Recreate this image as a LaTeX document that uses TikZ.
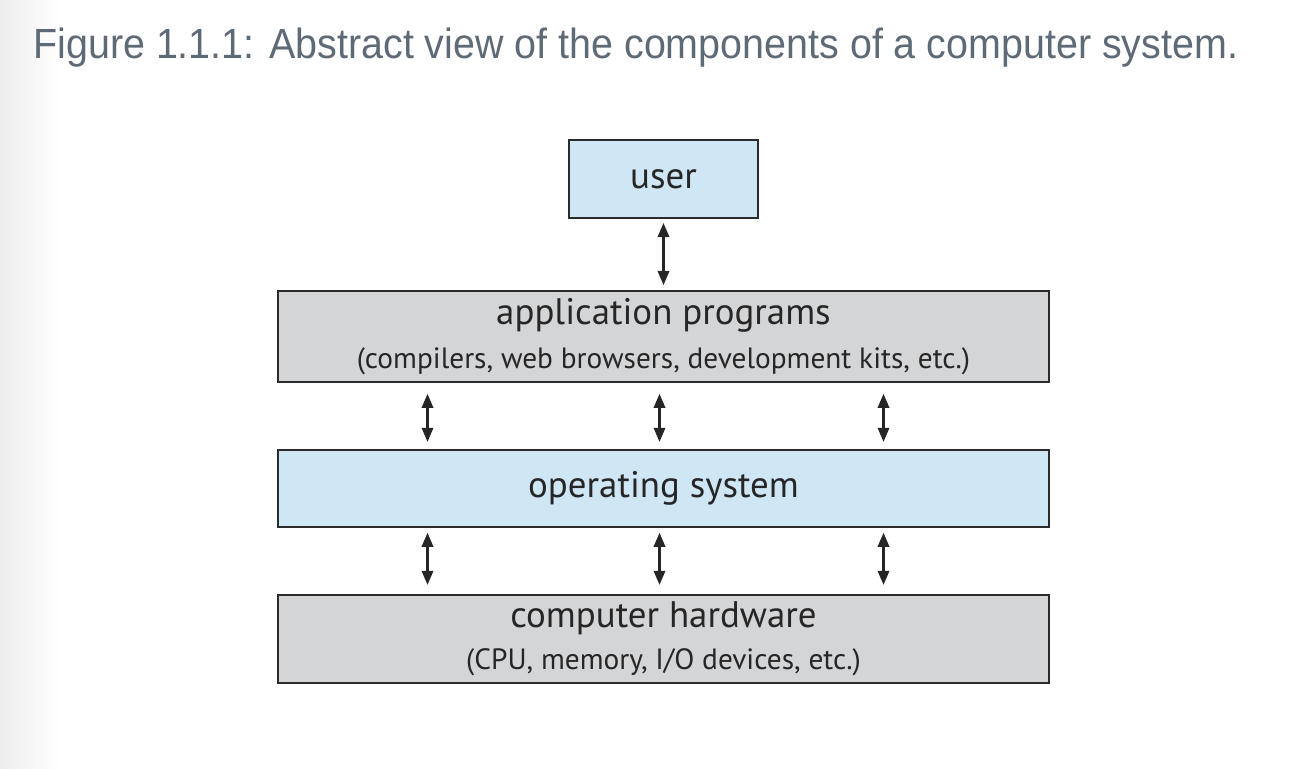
\documentclass[tikz,border=0pt]{standalone}
\usepackage{fontspec}
\setmainfont{PT Sans}
\newfontfamily\capfont[FakeStretch=0.935]{Liberation Sans}
\usetikzlibrary{arrows.meta, positioning}
\definecolor{osblue}{HTML}{CFE6F5}
\definecolor{hwgray}{HTML}{D4D5D7}
\definecolor{capgray}{HTML}{5E6B77}
\definecolor{edge}{HTML}{2B2B2B}

\begin{document}
\begin{tikzpicture}[
    layer/.style={draw=edge, line width=1.1pt, minimum width=15.42cm, align=center,
      inner sep=0pt, text=black!85, font=\fontsize{21}{24}\selectfont},
    link/.style={{Triangle[length=8pt,width=6.5pt]}-{Triangle[length=8pt,width=6.5pt]},
      line width=1.2pt, black!85}]
  \useasboundingbox (0,0) rectangle (25.96,-15.36);
  \shade[left color=black!7, right color=white] (0,0) rectangle (1.2,-15.36);

  \node[anchor=base west, inner sep=0pt, text=capgray,
    font=\capfont\fontsize{24}{28}\selectfont] (caption) at (0.66,-1.18)
    {Figure 1.1.1: Abstract view of the components of a computer system.};

  % the four layers
  \node[layer, fill=osblue, minimum width=3.78cm, minimum height=1.56cm] (user) at (13.27,-3.58) {user};
  \node[layer, fill=hwgray, minimum height=1.82cm, below=1.42cm of user] (apps)
    {application programs\\[1pt]{\fontsize{16.7}{19}\selectfont (compilers, web browsers, development kits, etc.)}};
  \node[layer, fill=osblue, minimum height=1.54cm, below=1.32cm of apps] (os) {operating system};
  \node[layer, fill=hwgray, minimum height=1.76cm, below=1.32cm of os] (hw)
    {computer hardware\\[0pt]{\fontsize{16.7}{19}\selectfont (CPU, memory, I/O devices, etc.)}};

  % arrows between layers
  \draw[link, shorten <=2.3pt, shorten >=2.8pt] (user) -- (apps);
  \foreach \dx in {-4.72,-0.08,4.40} {
    \draw[link, shorten <=6.2pt, shorten >=4pt] ([xshift=\dx cm]apps.south) -- ([xshift=\dx cm]os.north);
    \draw[link, shorten <=2.8pt, shorten >=5.1pt] ([xshift=\dx cm]os.south) -- ([xshift=\dx cm]hw.north);
  }
\end{tikzpicture}
\end{document}
